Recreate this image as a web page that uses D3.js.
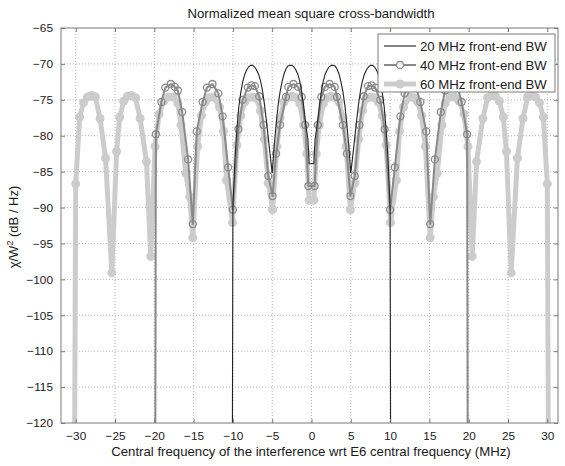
<!DOCTYPE html>
<html>
<head>
<meta charset="utf-8">
<script src="https://cdn.jsdelivr.net/npm/d3@7"></script>
<style>
  body { margin: 0; background: #fff; }
  svg { font-family: "Liberation Sans", Arial, sans-serif; }
  .grid line { stroke: #b4b4b4; stroke-width: 1; stroke-dasharray: 1,2; }
</style>
</head>
<body>
<svg id="chart" width="565" height="466"></svg>
<script>
  // tick labels
  const xTicks = [-30, -25, -20, -15, -10, -5, 0, 5, 10, 15, 20, 25, 30];
  const yTicks = [-120, -115, -110, -105, -100, -95, -90, -85, -80, -75, -70, -65];
  const seriesNames = ["20 MHz front-end BW", "40 MHz front-end BW", "60 MHz front-end BW"];

  // 20 MHz front-end BW (thin black line)
  const bw20x = [-10.1, -10.0, -9.75, -9.5, -9.25, -9.0, -8.75, -8.5, -8.25, -8.0, -7.75, -7.5, -7.25, -7.0, -6.75, -6.5, -6.25, -6.0, -5.75, -5.5, -5.25, -5.0,
                 -4.75, -4.5, -4.25, -4.0, -3.75, -3.5, -3.25, -3.0, -2.75, -2.5, -2.25, -2.0, -1.75, -1.5, -1.25, -1.0, -0.75, -0.45, -0.3,
                 0.3, 0.45, 0.75, 1.0, 1.25, 1.5, 1.75, 2.0, 2.25, 2.5, 2.75, 3.0, 3.25, 3.5, 3.75, 4.0, 4.25, 4.5, 4.75,
                 5.0, 5.25, 5.5, 5.75, 6.0, 6.25, 6.5, 6.75, 7.0, 7.25, 7.5, 7.75, 8.0, 8.25, 8.5, 8.75, 9.0, 9.25, 9.5, 9.75, 10.0, 10.1];
  const bw20y = [-140, -90.0, -83.5, -79.2, -76.0, -74.0, -72.5, -71.5, -70.8, -70.4, -70.2, -70.2, -70.4, -70.8, -71.4, -72.3, -73.6, -75.5, -77.8, -80.3, -82.8, -85.2,
                 -81.5, -78.4, -75.8, -73.9, -72.5, -71.4, -70.7, -70.3, -70.2, -70.2, -70.4, -70.8, -71.4, -72.4, -73.9, -75.8, -78.2, -80.6, -83.9,
                 -83.9, -80.6, -78.2, -75.8, -73.9, -72.4, -71.4, -70.8, -70.4, -70.2, -70.2, -70.3, -70.7, -71.4, -72.5, -73.9, -75.8, -78.4, -81.5,
                 -85.2, -82.8, -80.3, -77.8, -75.5, -73.6, -72.3, -71.4, -70.8, -70.4, -70.2, -70.2, -70.4, -70.8, -71.5, -72.5, -74.0, -76.0, -79.2, -83.5, -90.0, -140];

  // 40 MHz front-end BW (grey line, open circles)
  const bw40x = [-19.9, -19.8, -19.1, -18.6, -17.9, -17.4, -17.0, -16.45, -15.7, -15.1,
                 -14.6, -13.85, -13.3, -12.6, -11.85, -11.3, -10.6, -10.0,
                 -9.3, -8.75, -8.1, -7.65, -7.2, -6.65, -6.1, -5.5, -4.95,
                 -4.5, -4.0, -3.25, -2.95, -2.3, -1.7, -1.25, -0.8, -0.4,
                 0.4, 0.8, 1.25, 1.7, 2.3, 2.95, 3.25, 4.0, 4.5,
                 4.95, 5.5, 6.1, 6.65, 7.2, 7.65, 8.1, 8.75, 9.3,
                 10.0, 10.6, 11.3, 11.85, 12.6, 13.3, 13.85, 14.6,
                 15.1, 15.7, 16.45, 17.0, 17.4, 17.9, 18.6, 19.1, 19.8, 19.9];
  const bw40y = [-140, -79.8, -75.3, -73.3, -72.8, -73.2, -73.7, -76.7, -83.3, -92.3,
                 -79.4, -75.3, -73.3, -72.8, -74.1, -77.3, -84.4, -90.3,
                 -79.1, -75.0, -73.3, -73.0, -73.1, -74.5, -78.5, -85.6, -88.4,
                 -82.5, -78.5, -74.6, -73.2, -72.8, -73.2, -74.6, -78.5, -87.0,
                 -87.0, -78.5, -74.6, -73.2, -72.8, -73.2, -74.6, -78.5, -82.5,
                 -88.4, -85.6, -78.5, -74.5, -73.1, -73.0, -73.3, -75.0, -79.1,
                 -90.3, -84.4, -77.3, -74.1, -72.8, -73.3, -75.3, -79.4,
                 -92.3, -83.3, -76.7, -73.7, -73.2, -72.8, -73.3, -75.3, -79.8, -140];

  // 60 MHz front-end BW (thick light grey line, filled dots)
  const bw60x = [-30.2, -30.0, -29.5, -29.0, -28.5, -28.0, -27.5, -26.9, -26.2, -25.4,
                 -24.8, -24.4, -23.9, -23.4, -22.9, -22.4, -21.8, -21.0, -20.45,
                 -19.9, -19.4, -18.8, -18.2, -17.6, -17.0, -16.6, -16.0, -15.5, -15.1,
                 -14.5, -14.0, -13.5, -13.0, -12.5, -11.7, -11.2, -10.8, -10.05,
                 -9.5, -9.0, -8.5, -8.0, -7.5, -7.0, -6.5, -6.0, -5.5, -4.95,
                 -4.4, -4.0, -3.5, -3.0, -2.5, -2.0, -1.5, -1.0, -0.6, -0.3,
                 0.3, 0.6, 1.0, 1.5, 2.0, 2.5, 3.0, 3.5, 4.0, 4.4,
                 4.95, 5.5, 6.0, 6.5, 7.0, 7.5, 8.0, 8.5, 9.0, 9.5,
                 10.05, 10.8, 11.2, 11.7, 12.5, 13.0, 13.5, 14.0, 14.5,
                 15.1, 15.5, 16.0, 16.6, 17.0, 17.6, 18.2, 18.8, 19.4, 19.9,
                 20.45, 21.0, 21.8, 22.4, 22.9, 23.4, 23.9, 24.4, 24.8,
                 25.4, 26.2, 26.9, 27.5, 28.0, 28.5, 29.0, 29.5, 30.0, 30.2];
  const bw60y = [-140, -86.7, -77.4, -75.4, -74.6, -74.4, -74.6, -77.6, -83.1, -99.1,
                 -82.2, -77.4, -75.2, -74.5, -74.4, -74.7, -77.6, -83.6, -96.8,
                 -81.5, -77.0, -75.2, -74.6, -74.6, -75.5, -78.5, -85.2, -88.5, -94.2,
                 -81.5, -77.2, -75.3, -74.7, -74.6, -76.0, -79.4, -86.2, -92.1,
                 -81.3, -77.2, -75.3, -74.7, -74.6, -74.8, -76.5, -80.5, -86.6, -90.3,
                 -81.5, -77.5, -75.3, -74.7, -74.5, -74.7, -75.5, -78.5, -82.5, -89.0,
                 -89.0, -82.5, -78.5, -75.5, -74.7, -74.5, -74.7, -75.3, -77.5, -81.5,
                 -90.3, -86.6, -80.5, -76.5, -74.8, -74.6, -74.7, -75.3, -77.2, -81.3,
                 -92.1, -86.2, -79.4, -76.0, -74.6, -74.7, -75.3, -77.2, -81.5,
                 -94.2, -88.5, -85.2, -78.5, -75.5, -74.6, -74.6, -75.2, -77.0, -81.5,
                 -96.8, -83.6, -77.6, -74.7, -74.4, -74.5, -75.2, -77.4, -82.2,
                 -99.1, -83.1, -77.6, -74.6, -74.4, -74.6, -75.4, -77.4, -86.7, -140];

  const svg = d3.select("#chart");
  const plotLeft = 61, plotRight = 558, plotTop = 28, plotBottom = 423;

  const x = d3.scaleLinear().domain([-30, 30]).range([75.7, 547.3]);
  const y = d3.scaleLinear().domain([-120, -65]).range([plotBottom, plotTop]);

  svg.append("defs").append("clipPath").attr("id", "clip")
    .append("rect").attr("x", plotLeft).attr("y", plotTop)
    .attr("width", plotRight - plotLeft).attr("height", plotBottom - plotTop);

  // grid
  const grid = svg.append("g").attr("class", "grid");
  grid.selectAll(".gx").data(xTicks).join("line")
    .attr("x1", d => x(d)).attr("x2", d => x(d)).attr("y1", plotTop).attr("y2", plotBottom);
  grid.selectAll(".gy").data(yTicks.filter(d => d > -120 && d < -65)).join("line")
    .attr("y1", d => y(d)).attr("y2", d => y(d)).attr("x1", plotLeft).attr("x2", plotRight);

  const plot = svg.append("g").attr("clip-path", "url(#clip)");
  const line = d3.line().x(d => x(d[0])).y(d => y(d[1]));

  const d60 = bw60x.map((v, i) => [v, bw60y[i]]);
  const d40 = bw40x.map((v, i) => [v, bw40y[i]]);
  const d20 = bw20x.map((v, i) => [v, bw20y[i]]);

  plot.append("path").datum(d60).attr("d", line)
    .attr("fill", "none").attr("stroke", "#cccccc").attr("stroke-width", 5).attr("stroke-linejoin", "round");
  plot.selectAll(".m60").data(d60.filter(d => d[1] > -130)).join("circle")
    .attr("cx", d => x(d[0])).attr("cy", d => y(d[1])).attr("r", 4.5).attr("fill", "#cccccc");

  plot.append("path").datum(d40).attr("d", line)
    .attr("fill", "none").attr("stroke", "#898989").attr("stroke-width", 2).attr("stroke-linejoin", "round");
  plot.selectAll(".m40").data(d40.filter(d => d[1] > -130)).join("circle")
    .attr("cx", d => x(d[0])).attr("cy", d => y(d[1])).attr("r", 3.5)
    .attr("fill", "none").attr("stroke", "#898989").attr("stroke-width", 1.3);

  plot.append("path").datum(d20).attr("d", line)
    .attr("fill", "none").attr("stroke", "#222").attr("stroke-width", 1.1);

  // axes box and ticks
  const axisColor = "#7a7a7a";
  svg.append("g").attr("transform", `translate(0,${plotBottom})`)
    .call(d3.axisBottom(x).tickValues(xTicks).tickSizeInner(-4).tickSizeOuter(0).tickPadding(9).tickFormat(d3.format("d")))
    .call(g => g.select(".domain").remove());
  svg.append("g").attr("transform", `translate(0,${plotTop})`)
    .call(d3.axisTop(x).tickValues(xTicks).tickSizeInner(-4).tickSizeOuter(0).tickFormat(""))
    .call(g => g.select(".domain").remove());
  svg.append("g").attr("transform", `translate(${plotLeft},0)`)
    .call(d3.axisLeft(y).tickValues(yTicks).tickSizeInner(-4).tickSizeOuter(0).tickPadding(8).tickFormat(d3.format("d")))
    .call(g => g.select(".domain").remove());
  svg.append("g").attr("transform", `translate(${plotRight},0)`)
    .call(d3.axisRight(y).tickValues(yTicks).tickSizeInner(-4).tickSizeOuter(0).tickFormat(""))
    .call(g => g.select(".domain").remove());
  svg.selectAll(".tick line").attr("stroke", axisColor);
  svg.selectAll(".tick text").attr("fill", "#1a1a1a").attr("font-size", 11.8)
    .attr("font-family", "Liberation Sans, Arial, sans-serif");

  svg.append("rect").attr("x", plotLeft).attr("y", plotTop)
    .attr("width", plotRight - plotLeft).attr("height", plotBottom - plotTop)
    .attr("fill", "none").attr("stroke", axisColor).attr("stroke-width", 1);

  // title and labels
  svg.append("text").attr("x", 311).attr("y", 18).attr("text-anchor", "middle")
    .attr("font-size", 13.2).attr("fill", "#1a1a1a").text("Normalized mean square cross-bandwidth");
  svg.append("text").attr("x", 311).attr("y", 456).attr("text-anchor", "middle")
    .attr("font-size", 13.2).attr("fill", "#1a1a1a")
    .text("Central frequency of the interference wrt E6 central frequency (MHz)");
  const yl = svg.append("text").attr("transform", "translate(18,227) rotate(-90)").attr("text-anchor", "middle")
    .attr("font-size", 13).attr("fill", "#1a1a1a");
  yl.append("tspan").text("\u03C7/W");
  yl.append("tspan").attr("font-size", 9).attr("dy", -5).text("2");
  yl.append("tspan").attr("dy", 5).text(" (dB / Hz)");

  // legend
  const lg = svg.append("g");
  lg.append("rect").attr("x", 378).attr("y", 34).attr("width", 177).attr("height", 58)
    .attr("fill", "#fff").attr("stroke", axisColor).attr("stroke-width", 1);
  const styles = [
    { color: "#222", width: 1.1, marker: null },
    { color: "#898989", width: 2, marker: "open" },
    { color: "#cccccc", width: 5, marker: "dot" }
  ];
  seriesNames.forEach((name, i) => {
    const cy = 46 + i * 19;
    const s = styles[i];
    lg.append("line").attr("x1", 384).attr("x2", 416).attr("y1", cy).attr("y2", cy)
      .attr("stroke", s.color).attr("stroke-width", s.width);
    if (s.marker === "open") {
      lg.append("circle").attr("cx", 400).attr("cy", cy).attr("r", 3.5)
        .attr("fill", "#fff").attr("stroke", s.color).attr("stroke-width", 1.3);
    } else if (s.marker === "dot") {
      lg.append("circle").attr("cx", 400).attr("cy", cy).attr("r", 4.5).attr("fill", s.color);
    }
    lg.append("text").attr("x", 420).attr("y", cy + 4.5).attr("font-size", 13.2)
      .attr("fill", "#1a1a1a").text(name);
  });
</script>
</body>
</html>
